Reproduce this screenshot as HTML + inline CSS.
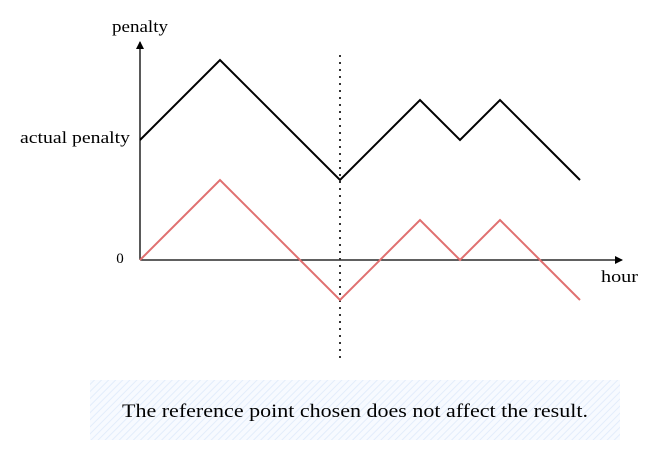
<!DOCTYPE html>
<html><head><meta charset="utf-8"><style>
body{margin:0;background:#fff;width:650px;height:450px;overflow:hidden;font-family:"Liberation Serif",serif}
</style></head><body>
<svg width="650" height="450">
<defs>
<pattern id="hatch" width="5" height="5" patternUnits="userSpaceOnUse" patternTransform="rotate(45)">
<rect width="5" height="5" fill="#f7faff"/><line x1="0" y1="0" x2="0" y2="5" stroke="#e3edfb" stroke-width="2"/>
</pattern>
<marker id="arr" markerWidth="8" markerHeight="8" refX="7" refY="4" orient="auto" markerUnits="userSpaceOnUse"><path d="M0,0 L8,4 L0,8 Z" fill="#000"/></marker>
</defs>
<line x1="140" y1="260" x2="140" y2="42" stroke="#000" stroke-width="1.3" marker-end="url(#arr)"/>
<line x1="140" y1="260" x2="622" y2="260" stroke="#000" stroke-width="1.3" marker-end="url(#arr)"/>
<text x="112" y="32" font-size="17" textLength="56" lengthAdjust="spacingAndGlyphs">penalty</text>
<text x="601" y="282" font-size="17" textLength="37" lengthAdjust="spacingAndGlyphs">hour</text>
<text x="20" y="143" font-size="17" textLength="110" lengthAdjust="spacingAndGlyphs">actual penalty</text>
<text x="120" y="263" font-size="15" text-anchor="middle">0</text>
<line x1="340" y1="55" x2="340" y2="360" stroke="#333" stroke-width="2" stroke-dasharray="2,5"/>
<g id="series"></g>
<rect x="90" y="380" width="530" height="60" fill="url(#hatch)"/>
<text x="122" y="417" font-size="19" textLength="466" lengthAdjust="spacingAndGlyphs">The reference point chosen does not affect the result.</text>
</svg>
<script>
const hours=[0,2,5,7,8,9,11];
const relative=[0,2,-1,1,0,1,-1];
const actual=[3,5,2,4,3,4,2];
const sx=h=>140+h*40, sy=v=>260-v*40;
const g=document.getElementById('series');
function draw(vals,color,name){
  const p=document.createElementNS('http://www.w3.org/2000/svg','polyline');
  p.setAttribute('points',vals.map((v,i)=>sx(hours[i])+','+sy(v)).join(' '));
  p.setAttribute('fill','none');p.setAttribute('stroke',color);p.setAttribute('stroke-width','2');
  
  
  g.appendChild(p);
}
draw(actual,'#000','actual-penalty-line');
draw(relative,'#e07070','relative-penalty-line');
</script>
</body></html>
